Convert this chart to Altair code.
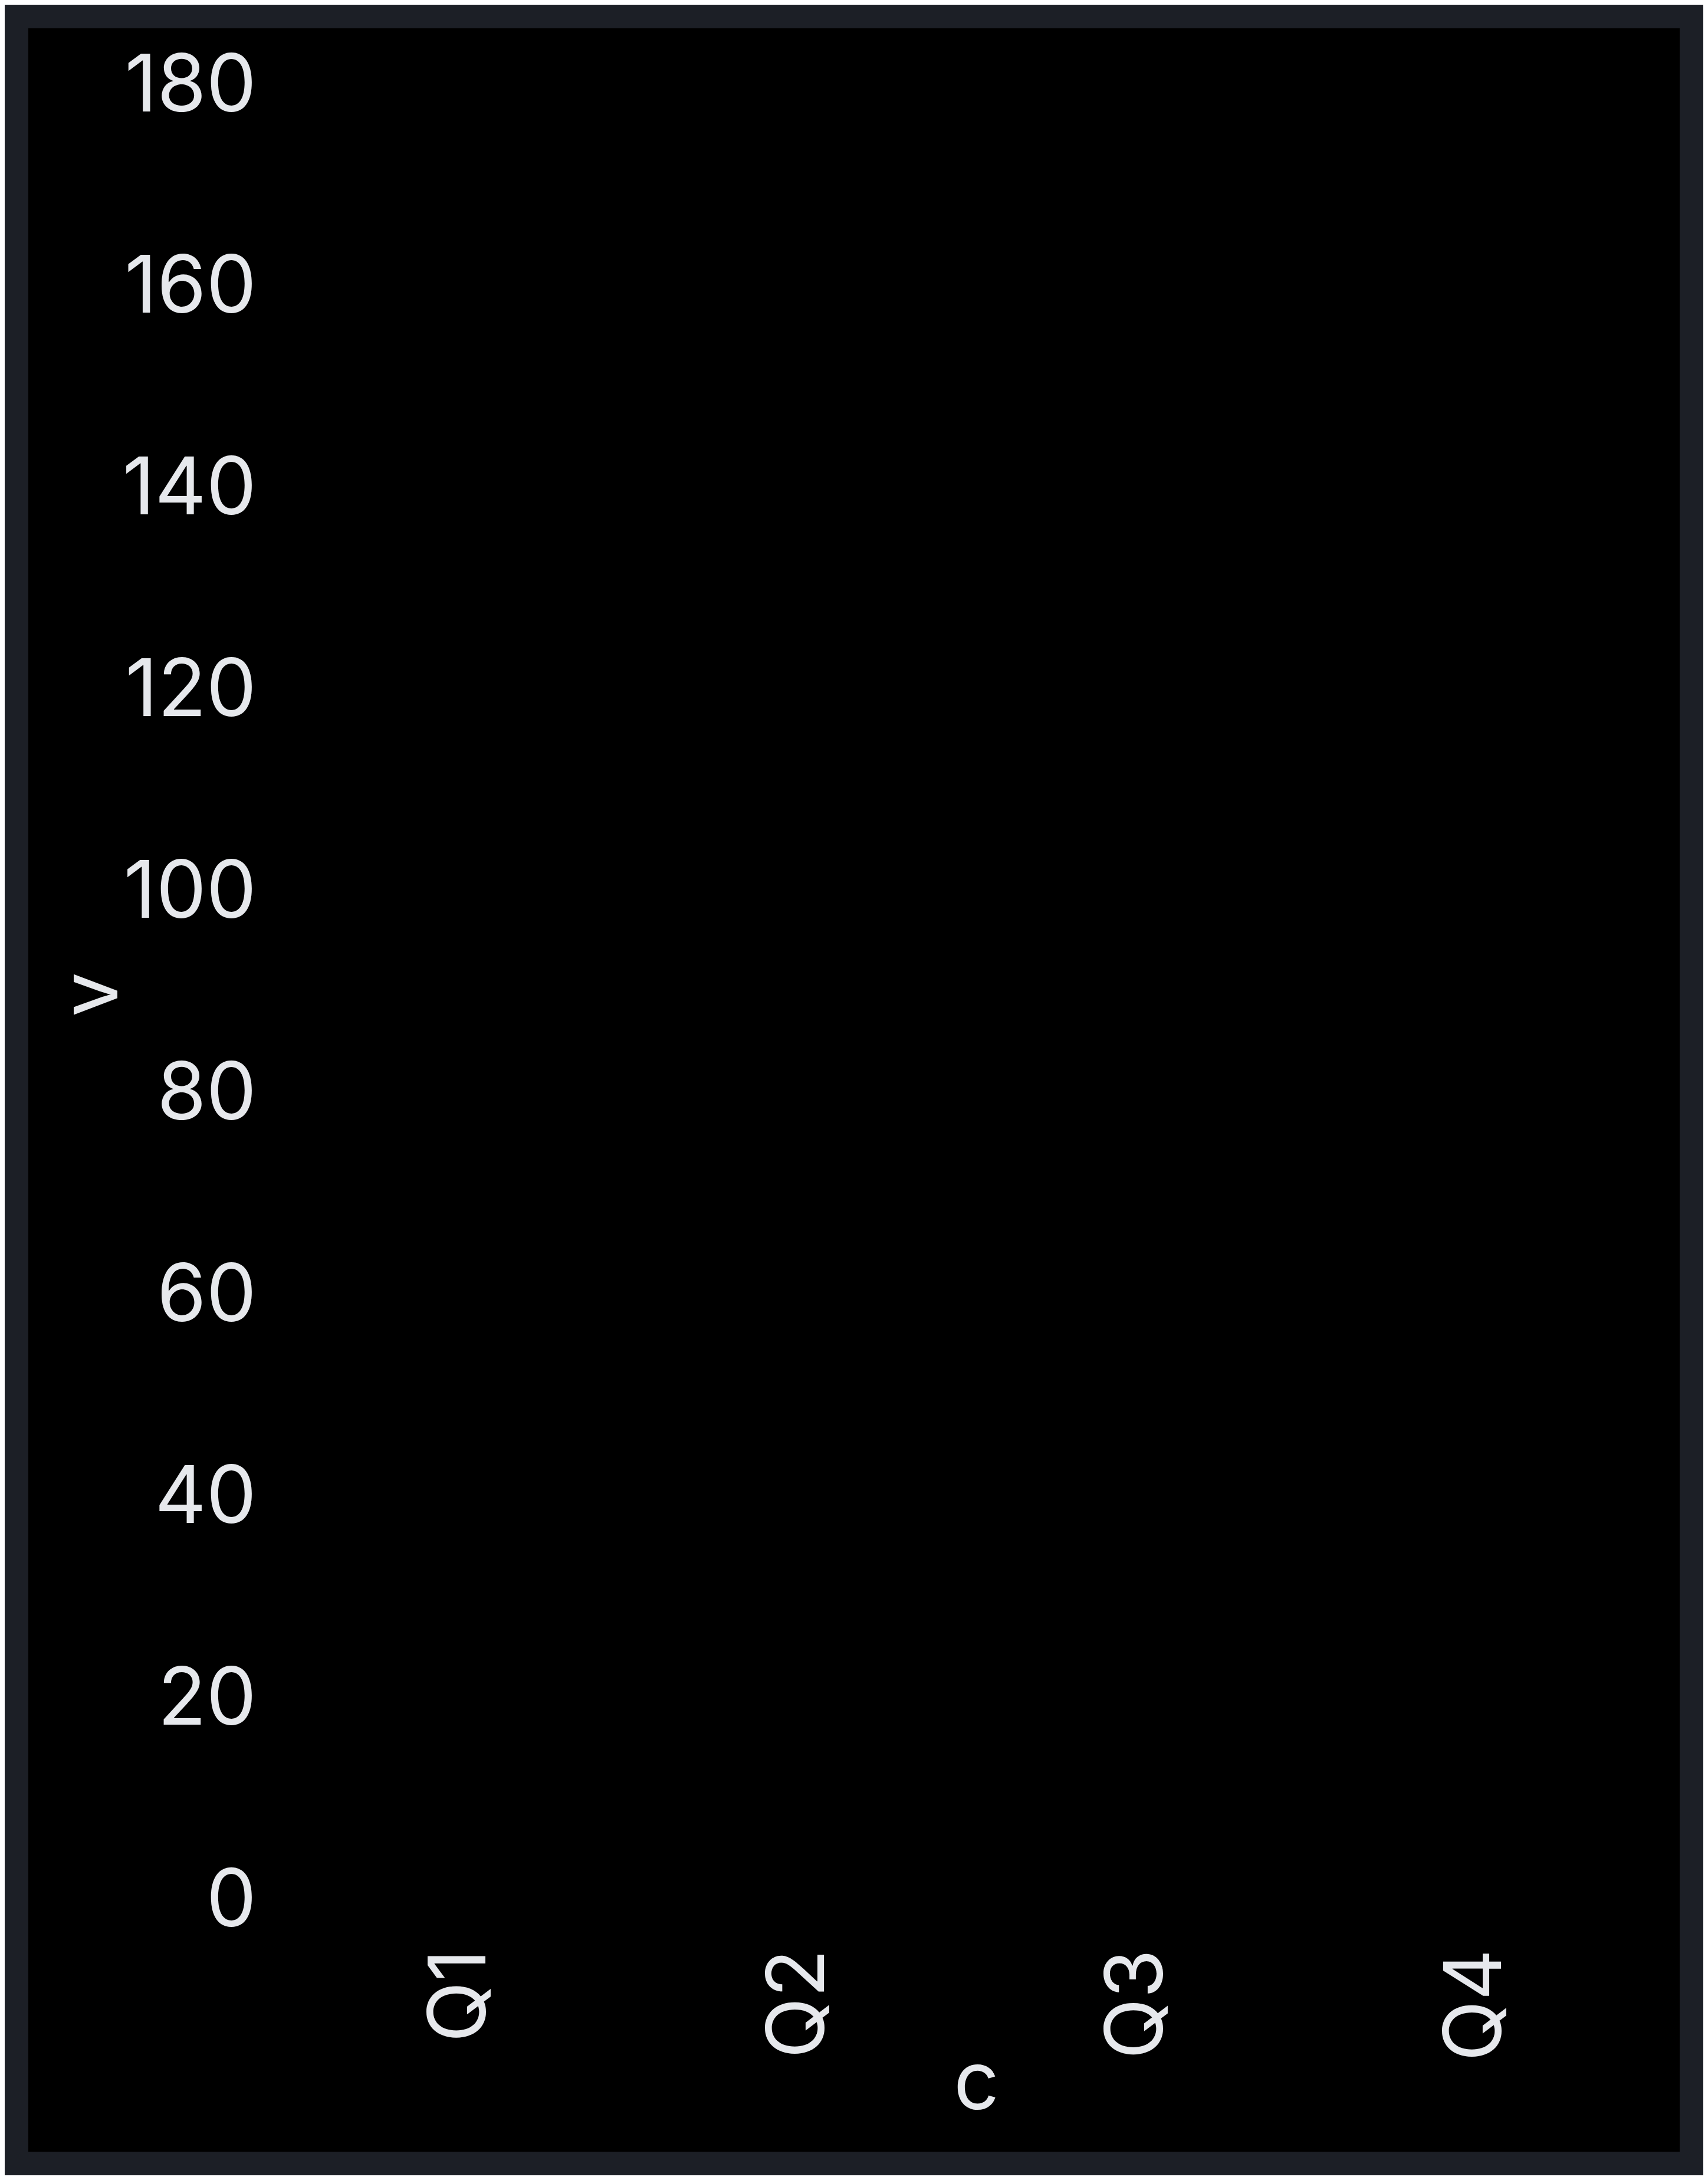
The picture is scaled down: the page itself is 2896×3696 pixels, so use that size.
import altair as alt
import pandas as pd

# ---- data (bars are drawn in the panel colour, as in the reference) ----
quarters = ["Q1", "Q2", "Q3", "Q4"]
values = [120, 150, 172, 140]
y_ticks = [0, 20, 40, 60, 80, 100, 120, 140, 160, 180]

# ---- style ----
PAGE_BG = "#1c1f26"
PANEL = "#000000"
TEXT = "#e6e8ec"
FONT = "Inter"
FS = 135

W, H = 2295, 3077

df = pd.DataFrame({"c": quarters, "v": values})
one = pd.DataFrame({"k": [0]})

panel = alt.Chart(one).mark_rect(color=PANEL, clip=False).encode(
    x=alt.value(-447.5), x2=alt.value(W + 57.5),
    y=alt.value(-99), y2=alt.value(H + 424),
)

bars = alt.Chart(df).mark_bar(color=PANEL).encode(
    x=alt.X(
        "c:N", sort=quarters, title="c",
        axis=alt.Axis(
            labelAngle=270, labelPadding=80, tickSize=0, ticks=False,
            domain=False, grid=False, titlePadding=43, titleX=W / 2 + 12,
            zindex=1,
        ),
    ),
    y=alt.Y(
        "v:Q", title="v",
        scale=alt.Scale(domain=[0, 180]),
        axis=alt.Axis(
            values=y_ticks, labelPadding=61, tickSize=0, ticks=False,
            domain=False, grid=False, titlePadding=69, zindex=1,
        ),
    ),
)

chart = alt.layer(panel, bars).properties(
    width=W, height=H,
    background=PAGE_BG,
    padding={"left": 487.5, "top": 139, "right": 97.5, "bottom": 464},
    autosize=alt.AutoSizeParams(type="none"),
).configure_view(stroke=None).configure_axis(
    labelFont=FONT, labelFontSize=FS, labelColor=TEXT, labelLimit=0,
    titleFont=FONT, titleFontSize=FS, titleColor=TEXT, titleFontWeight="normal",
    titleLimit=0,
)

chart.save("out.html", embed_options={"renderer": "svg", "actions": False})
